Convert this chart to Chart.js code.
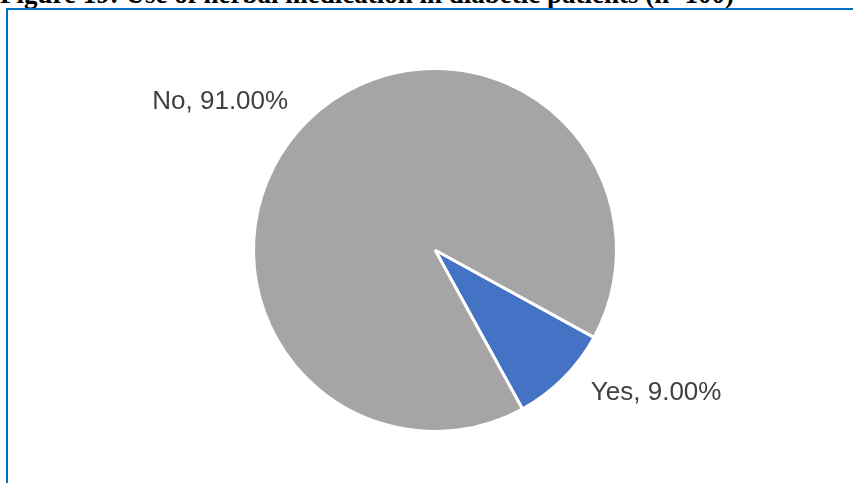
<!DOCTYPE html>
<html>
<head>
<meta charset="utf-8">
<script src="https://cdn.jsdelivr.net/npm/chart.js@4/dist/chart.umd.min.js"></script>
<style>
    body { margin: 0; background: #fff; overflow: hidden; }
    #wrap { position: relative; width: 853px; height: 483px; overflow: hidden; }
    #caption {
        position: absolute; left: 0; top: -19px; white-space: nowrap;
        font: bold 27px "Liberation Serif", "Times New Roman", serif;
        line-height: 26px; color: #000;
    }
    #frame {
        position: absolute; left: 6px; top: 8px; width: 900px; height: 600px;
        border: 2px solid #0070C0;
    }
    #herbal-chart { position: absolute; left: 0; top: 0; }
</style>
</head>
<body>
<div id="wrap">
    <div id="caption">Figure 19: Use of herbal medication in diabetic patients (n=100)</div>
    <div id="frame"></div>
    <canvas id="herbal-chart" width="853" height="483"></canvas>
</div>
<script>
const answers = ['Yes', 'No'];
const percentages = [9.00, 91.00];
const sliceColors = ['#4472C4', '#A5A5A5'];

// writes "Label, xx.xx%" just outside each slice
const sliceLabels = {
    id: 'sliceLabels',
    afterDatasetsDraw(chart, args, opts) {
        const ctx = chart.ctx;
        const meta = chart.getDatasetMeta(0);
        ctx.save();
        ctx.font = '26px "Liberation Sans", Arial, sans-serif';
        ctx.fillStyle = '#404040';
        ctx.textBaseline = 'middle';
        meta.data.forEach((arc, i) => {
            const mid = (arc.startAngle + arc.endAngle) / 2;
            const r = arc.outerRadius + opts.gap;
            const shift = opts.shift[i] || [0, 0];
            const x = arc.x + Math.cos(mid) * r + shift[0];
            const y = arc.y + Math.sin(mid) * r + shift[1];
            ctx.textAlign = Math.cos(mid) < 0 ? 'right' : 'left';
            ctx.fillText(answers[i] + ', ' + percentages[i].toFixed(2) + '%', x, y);
        });
        ctx.restore();
    }
};

new Chart(document.getElementById('herbal-chart'), {
    type: 'pie',
    data: {
        labels: answers,
        datasets: [{
            data: percentages,
            backgroundColor: sliceColors,
            borderColor: '#ffffff',
            borderWidth: 3
        }]
    },
    options: {
        responsive: false,
        animation: false,
        rotation: 118.8,
        layout: { padding: { top: 67, bottom: 50, left: 97, right: 80 } },
        plugins: {
            legend: { display: false },
            tooltip: { enabled: false },
            sliceLabels: { gap: 29, shift: [[7, -6], [2, 1]] }
        }
    },
    plugins: [sliceLabels]
});
</script>
</body>
</html>
